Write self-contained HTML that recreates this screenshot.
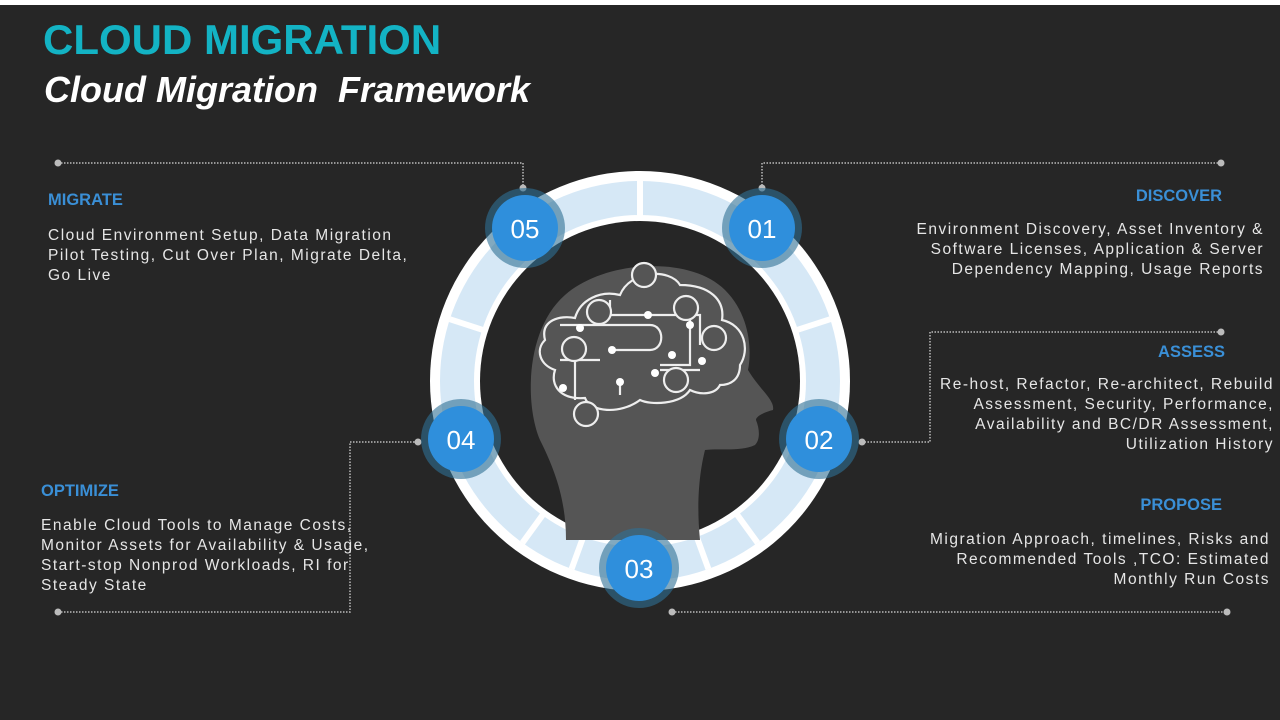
<!DOCTYPE html>
<html><head><meta charset="utf-8"><style>
body{margin:0;width:1280px;height:720px;background:#262626;overflow:hidden;position:relative;font-family:"Liberation Sans",sans-serif}
.t{position:absolute;color:#e6e6e6;font-size:15.5px;line-height:20px;letter-spacing:1.5px;white-space:nowrap}
.h{position:absolute;color:#3a8fd6;font-weight:bold;font-size:16.5px}
.r{text-align:right}
</style></head><body>
<div style="position:absolute;left:0;top:0;width:1280px;height:5px;background:#fff"></div>
<div style="position:absolute;left:43px;top:16px;color:#13b3c4;font-weight:bold;font-size:42px;letter-spacing:0px">CLOUD MIGRATION</div>
<div style="position:absolute;left:44px;top:69px;color:#fff;font-weight:bold;font-style:italic;font-size:36px">Cloud Migration&nbsp; Framework</div>

<svg width="1280" height="720" style="position:absolute;left:0;top:0">
<g stroke="#bbb" stroke-width="1.5" stroke-dasharray="1.5 1.5" fill="none">
<path d="M58 163 H523 V188"/>
<path d="M1221 163 H762 V188"/>
<path d="M1221 332 H930 V442 H862"/>
<path d="M58 612 H350 V442 H418"/>
<path d="M672 612 H1227"/>
</g>
<g fill="#bbb"><circle cx="58" cy="163" r="3.5"/><circle cx="1221" cy="163" r="3.5"/><circle cx="1221" cy="332" r="3.5"/><circle cx="58" cy="612" r="3.5"/><circle cx="672" cy="612" r="3.5"/><circle cx="1227" cy="612" r="3.5"/><circle cx="523" cy="188" r="3.5"/><circle cx="762" cy="188" r="3.5"/><circle cx="862" cy="442" r="3.5"/><circle cx="418" cy="442" r="3.5"/></g>
<circle cx="640" cy="381" r="210" fill="#fff"/>
<circle cx="640" cy="381" r="200" fill="#d6e8f6"/>
<g stroke="#fff" stroke-width="6" transform="translate(640 381)">
<line x1="0" y1="-200" x2="0" y2="-160"/>
<line x1="0" y1="-200" x2="0" y2="-160" transform="rotate(72)"/>
<line x1="0" y1="-200" x2="0" y2="-160" transform="rotate(144)"/>
<line x1="0" y1="-200" x2="0" y2="-160" transform="rotate(-144)"/>
<line x1="0" y1="-200" x2="0" y2="-160" transform="rotate(-72)"/>
<line x1="0" y1="-200" x2="0" y2="-160" transform="rotate(108)"/>
<line x1="0" y1="-200" x2="0" y2="-160" transform="rotate(-108)"/>
<line x1="0" y1="-200" x2="0" y2="-160" transform="rotate(160)"/>
<line x1="0" y1="-200" x2="0" y2="-160" transform="rotate(-160)"/>
</g>
<circle cx="640" cy="381" r="166" fill="#fff"/>
<circle cx="640" cy="381" r="160" fill="#262626"/>
<path d="M566 540 C566 500 555 470 540 440 C525 405 525 330 565 295 C605 260 690 255 725 290 C750 315 752 350 748 370 C760 390 775 400 773 410 C765 412 756 416 756 420 C760 430 760 440 755 445 C740 452 720 448 705 450 C700 470 696 500 700 540 Z" fill="#555"/>
<g stroke="#eee" stroke-width="2.2" fill="none">
<path d="M545 340 C540 320 560 315 575 318 C580 300 600 290 620 295 C630 270 670 268 680 285 C710 285 725 300 722 320 C745 325 750 350 740 365 C740 380 730 385 720 385 C715 395 700 395 690 390 C680 405 650 405 640 400 C620 415 590 412 585 398 C560 400 550 385 555 370 C540 365 535 350 545 340Z"/>
<path d="M560 325 H650 C665 325 665 350 650 350 H610"/>
<path d="M560 360 H600 M575 340 V385"/>
<path d="M610 300 V315 H700 V345 M690 320 V365 H660"/>
<path d="M575 385 V400 M620 380 V395 M660 370 H700"/>
</g>
<g fill="#555" stroke="#eee" stroke-width="2.2">
<circle cx="599" cy="312" r="12"/><circle cx="644" cy="275" r="12"/><circle cx="686" cy="308" r="12"/><circle cx="714" cy="338" r="12"/><circle cx="574" cy="349" r="12"/><circle cx="676" cy="380" r="12"/><circle cx="586" cy="414" r="12"/>
</g>
<g fill="#fff"><circle cx="648" cy="315" r="4"/><circle cx="612" cy="350" r="4"/><circle cx="580" cy="328" r="4"/><circle cx="672" cy="355" r="4"/><circle cx="702" cy="361" r="4"/><circle cx="620" cy="382" r="4"/><circle cx="563" cy="388" r="4"/><circle cx="655" cy="373" r="4"/><circle cx="690" cy="325" r="4"/></g>
<g font-family="Liberation Sans Narrow,Liberation Sans,sans-serif" font-size="26" fill="#fff" text-anchor="middle">
<g><circle cx="525" cy="228" r="40" fill="#2f6f95" opacity="0.6"/><circle cx="525" cy="228" r="33" fill="#2f8fdc"/><text x="525" y="238">05</text></g>
<g><circle cx="762" cy="228" r="40" fill="#2f6f95" opacity="0.6"/><circle cx="762" cy="228" r="33" fill="#2f8fdc"/><text x="762" y="238">01</text></g>
<g><circle cx="461" cy="439" r="40" fill="#2f6f95" opacity="0.6"/><circle cx="461" cy="439" r="33" fill="#2f8fdc"/><text x="461" y="449">04</text></g>
<g><circle cx="819" cy="439" r="40" fill="#2f6f95" opacity="0.6"/><circle cx="819" cy="439" r="33" fill="#2f8fdc"/><text x="819" y="449">02</text></g>
<g><circle cx="639" cy="568" r="40" fill="#2f6f95" opacity="0.6"/><circle cx="639" cy="568" r="33" fill="#2f8fdc"/><text x="639" y="578">03</text></g>
</g>
</svg>

<div class="h" style="left:48px;top:191px">MIGRATE</div>
<div class="t" style="left:48px;top:226px">Cloud Environment Setup, Data Migration<br>Pilot Testing, Cut Over Plan, Migrate Delta,<br>Go Live</div>
<div class="h" style="left:41px;top:482px">OPTIMIZE</div>
<div class="t" style="left:41px;top:516px">Enable Cloud Tools to Manage Costs,<br>Monitor Assets for Availability &amp; Usage,<br>Start-stop Nonprod Workloads, RI for<br>Steady State</div>
<div class="h" style="right:58px;top:187px">DISCOVER</div>
<div class="t r" style="right:16px;top:220px">Environment Discovery, Asset Inventory &amp;<br>Software Licenses, Application &amp; Server<br>Dependency Mapping, Usage Reports</div>
<div class="h" style="right:55px;top:343px">ASSESS</div>
<div class="t r" style="right:6px;top:375px">Re-host, Refactor, Re-architect, Rebuild<br>Assessment, Security, Performance,<br>Availability and BC/DR Assessment,<br>Utilization History</div>
<div class="h" style="right:58px;top:496px">PROPOSE</div>
<div class="t r" style="right:10px;top:530px">Migration Approach, timelines, Risks and<br>Recommended Tools ,TCO: Estimated<br>Monthly Run Costs</div>
</body></html>
